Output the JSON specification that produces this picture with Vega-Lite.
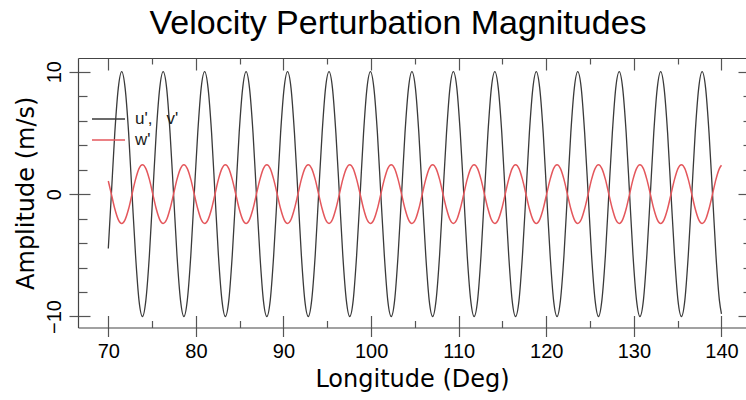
{
  "$schema": "https://vega.github.io/schema/vega-lite/v6.json",
  "width": 668,
  "height": 269.5,
  "autosize": {"type": "none"},
  "padding": {"left": 78, "top": 58, "right": 0, "bottom": 72.5},
  "background": "white",
  "title": {"text": "Velocity Perturbation Magnitudes", "font": "Liberation Sans", "fontSize": 34, "fontWeight": "normal", "color": "#000", "anchor": "middle", "frame": "group", "dx": -14, "baseline": "alphabetic", "offset": -11},
  "config": {
    "view": {"stroke": null},
    "axis": {"grid": false, "labelFont": "Liberation Sans", "labelFontSize": 20, "labelColor": "#000", "titleFont": "DejaVu Sans", "titleFontSize": 24, "titleFontWeight": "normal", "titleColor": "#000", "domainColor": "#444", "domainWidth": 1.2, "tickColor": "#555", "tickWidth": 1.2, "labelFlush": false, "labelOverlap": false}
  },
  "data": {"values": [
    {"lon":70,"u":-4.45,"w":1.07},{"lon":70.35,"u":0,"w":0},{"lon":70.74,"u":5,"w":-1.2},{"lon":71.14,"u":8.66,"w":-2.08},
    {"lon":71.53,"u":10,"w":-2.4},{"lon":71.92,"u":8.66,"w":-2.08},{"lon":72.32,"u":5,"w":-1.2},{"lon":72.71,"u":0,"w":0},{"lon":73.11,"u":-5,"w":1.2},{"lon":73.5,"u":-8.66,"w":2.08},{"lon":73.9,"u":-10,"w":2.4},{"lon":74.29,"u":-8.66,"w":2.08},{"lon":74.69,"u":-5,"w":1.2},{"lon":75.08,"u":0,"w":0},{"lon":75.47,"u":5,"w":-1.2},{"lon":75.87,"u":8.66,"w":-2.08},
    {"lon":76.26,"u":10,"w":-2.4},{"lon":76.66,"u":8.66,"w":-2.08},{"lon":77.05,"u":5,"w":-1.2},{"lon":77.45,"u":0,"w":0},{"lon":77.84,"u":-5,"w":1.2},{"lon":78.24,"u":-8.66,"w":2.08},{"lon":78.63,"u":-10,"w":2.4},{"lon":79.02,"u":-8.66,"w":2.08},{"lon":79.42,"u":-5,"w":1.2},{"lon":79.81,"u":0,"w":0},{"lon":80.21,"u":5,"w":-1.2},{"lon":80.6,"u":8.66,"w":-2.08},
    {"lon":81.0,"u":10,"w":-2.4},{"lon":81.39,"u":8.66,"w":-2.08},{"lon":81.79,"u":5,"w":-1.2},{"lon":82.18,"u":0,"w":0},{"lon":82.57,"u":-5,"w":1.2},{"lon":82.97,"u":-8.66,"w":2.08},{"lon":83.36,"u":-10,"w":2.4},{"lon":83.76,"u":-8.66,"w":2.08},{"lon":84.15,"u":-5,"w":1.2},{"lon":84.55,"u":0,"w":0},{"lon":84.94,"u":5,"w":-1.2},{"lon":85.34,"u":8.66,"w":-2.08},
    {"lon":85.73,"u":10,"w":-2.4},{"lon":86.12,"u":8.66,"w":-2.08},{"lon":86.52,"u":5,"w":-1.2},{"lon":86.91,"u":0,"w":0},{"lon":87.31,"u":-5,"w":1.2},{"lon":87.7,"u":-8.66,"w":2.08},{"lon":88.1,"u":-10,"w":2.4},{"lon":88.49,"u":-8.66,"w":2.08},{"lon":88.88,"u":-5,"w":1.2},{"lon":89.28,"u":0,"w":0},{"lon":89.67,"u":5,"w":-1.2},{"lon":90.07,"u":8.66,"w":-2.08},
    {"lon":90.46,"u":10,"w":-2.4},{"lon":90.86,"u":8.66,"w":-2.08},{"lon":91.25,"u":5,"w":-1.2},{"lon":91.65,"u":0,"w":0},{"lon":92.04,"u":-5,"w":1.2},{"lon":92.43,"u":-8.66,"w":2.08},{"lon":92.83,"u":-10,"w":2.4},{"lon":93.22,"u":-8.66,"w":2.08},{"lon":93.62,"u":-5,"w":1.2},{"lon":94.01,"u":0,"w":0},{"lon":94.41,"u":5,"w":-1.2},{"lon":94.8,"u":8.66,"w":-2.08},
    {"lon":95.2,"u":10,"w":-2.4},{"lon":95.59,"u":8.66,"w":-2.08},{"lon":95.98,"u":5,"w":-1.2},{"lon":96.38,"u":0,"w":0},{"lon":96.77,"u":-5,"w":1.2},{"lon":97.17,"u":-8.66,"w":2.08},{"lon":97.56,"u":-10,"w":2.4},{"lon":97.96,"u":-8.66,"w":2.08},{"lon":98.35,"u":-5,"w":1.2},{"lon":98.75,"u":0,"w":0},{"lon":99.14,"u":5,"w":-1.2},{"lon":99.53,"u":8.66,"w":-2.08},
    {"lon":99.93,"u":10,"w":-2.4},{"lon":100.32,"u":8.66,"w":-2.08},{"lon":100.72,"u":5,"w":-1.2},{"lon":101.11,"u":0,"w":0},{"lon":101.51,"u":-5,"w":1.2},{"lon":101.9,"u":-8.66,"w":2.08},{"lon":102.3,"u":-10,"w":2.4},{"lon":102.69,"u":-8.66,"w":2.08},{"lon":103.08,"u":-5,"w":1.2},{"lon":103.48,"u":0,"w":0},{"lon":103.87,"u":5,"w":-1.2},{"lon":104.27,"u":8.66,"w":-2.08},
    {"lon":104.66,"u":10,"w":-2.4},{"lon":105.06,"u":8.66,"w":-2.08},{"lon":105.45,"u":5,"w":-1.2},{"lon":105.84,"u":0,"w":0},{"lon":106.24,"u":-5,"w":1.2},{"lon":106.63,"u":-8.66,"w":2.08},{"lon":107.03,"u":-10,"w":2.4},{"lon":107.42,"u":-8.66,"w":2.08},{"lon":107.82,"u":-5,"w":1.2},{"lon":108.21,"u":0,"w":0},{"lon":108.61,"u":5,"w":-1.2},{"lon":109.0,"u":8.66,"w":-2.08},
    {"lon":109.39,"u":10,"w":-2.4},{"lon":109.79,"u":8.66,"w":-2.08},{"lon":110.18,"u":5,"w":-1.2},{"lon":110.58,"u":0,"w":0},{"lon":110.97,"u":-5,"w":1.2},{"lon":111.37,"u":-8.66,"w":2.08},{"lon":111.76,"u":-10,"w":2.4},{"lon":112.16,"u":-8.66,"w":2.08},{"lon":112.55,"u":-5,"w":1.2},{"lon":112.94,"u":0,"w":0},{"lon":113.34,"u":5,"w":-1.2},{"lon":113.73,"u":8.66,"w":-2.08},
    {"lon":114.13,"u":10,"w":-2.4},{"lon":114.52,"u":8.66,"w":-2.08},{"lon":114.92,"u":5,"w":-1.2},{"lon":115.31,"u":0,"w":0},{"lon":115.71,"u":-5,"w":1.2},{"lon":116.1,"u":-8.66,"w":2.08},{"lon":116.49,"u":-10,"w":2.4},{"lon":116.89,"u":-8.66,"w":2.08},{"lon":117.28,"u":-5,"w":1.2},{"lon":117.68,"u":0,"w":0},{"lon":118.07,"u":5,"w":-1.2},{"lon":118.47,"u":8.66,"w":-2.08},
    {"lon":118.86,"u":10,"w":-2.4},{"lon":119.25,"u":8.66,"w":-2.08},{"lon":119.65,"u":5,"w":-1.2},{"lon":120.04,"u":0,"w":0},{"lon":120.44,"u":-5,"w":1.2},{"lon":120.83,"u":-8.66,"w":2.08},{"lon":121.23,"u":-10,"w":2.4},{"lon":121.62,"u":-8.66,"w":2.08},{"lon":122.02,"u":-5,"w":1.2},{"lon":122.41,"u":0,"w":0},{"lon":122.8,"u":5,"w":-1.2},{"lon":123.2,"u":8.66,"w":-2.08},
    {"lon":123.59,"u":10,"w":-2.4},{"lon":123.99,"u":8.66,"w":-2.08},{"lon":124.38,"u":5,"w":-1.2},{"lon":124.78,"u":0,"w":0},{"lon":125.17,"u":-5,"w":1.2},{"lon":125.57,"u":-8.66,"w":2.08},{"lon":125.96,"u":-10,"w":2.4},{"lon":126.35,"u":-8.66,"w":2.08},{"lon":126.75,"u":-5,"w":1.2},{"lon":127.14,"u":0,"w":0},{"lon":127.54,"u":5,"w":-1.2},{"lon":127.93,"u":8.66,"w":-2.08},
    {"lon":128.33,"u":10,"w":-2.4},{"lon":128.72,"u":8.66,"w":-2.08},{"lon":129.12,"u":5,"w":-1.2},{"lon":129.51,"u":0,"w":0},{"lon":129.9,"u":-5,"w":1.2},{"lon":130.3,"u":-8.66,"w":2.08},{"lon":130.69,"u":-10,"w":2.4},{"lon":131.09,"u":-8.66,"w":2.08},{"lon":131.48,"u":-5,"w":1.2},{"lon":131.88,"u":0,"w":0},{"lon":132.27,"u":5,"w":-1.2},{"lon":132.67,"u":8.66,"w":-2.08},
    {"lon":133.06,"u":10,"w":-2.4},{"lon":133.45,"u":8.66,"w":-2.08},{"lon":133.85,"u":5,"w":-1.2},{"lon":134.24,"u":0,"w":0},{"lon":134.64,"u":-5,"w":1.2},{"lon":135.03,"u":-8.66,"w":2.08},{"lon":135.43,"u":-10,"w":2.4},{"lon":135.82,"u":-8.66,"w":2.08},{"lon":136.21,"u":-5,"w":1.2},{"lon":136.61,"u":0,"w":0},{"lon":137.0,"u":5,"w":-1.2},{"lon":137.4,"u":8.66,"w":-2.08},
    {"lon":137.79,"u":10,"w":-2.4},{"lon":138.19,"u":8.66,"w":-2.08},{"lon":138.58,"u":5,"w":-1.2},{"lon":138.98,"u":0,"w":0},{"lon":139.37,"u":-5,"w":1.2},{"lon":139.76,"u":-8.66,"w":2.08},{"lon":140,"u":-9.78,"w":2.35}
  ]},
  "layer": [
    {
      "mark": {"type": "line", "interpolate": "monotone", "strokeWidth": 1.3},
      "encoding": {
        "x": {"field": "lon", "type": "quantitative", "scale": {"domain": [66.54, 142.8], "nice": false, "zero": false},
              "axis": {"orient": "bottom", "values": [70, 80, 90, 100, 110, 120, 130, 140], "tickSize": 9, "labelPadding": 5, "title": "Longitude (Deg)", "titlePadding": 6}},
        "y": {"field": "u", "type": "quantitative", "scale": {"domain": [-10.9, 11.12], "nice": false, "zero": false},
              "axis": {"orient": "left", "values": [-10, 0, 10], "tickSize": 9, "labelAngle": -90, "labelAlign": "center", "labelBaseline": "bottom", "labelPadding": 5, "title": "Amplitude (m/s)", "titlePadding": 6}},
        "color": {"datum": "u',\u00a0\u00a0\u00a0v'", "type": "nominal",
                  "scale": {"domain": ["u',\u00a0\u00a0\u00a0v'", "w'"], "range": ["#3a3a3a", "#e4575c"]},
                  "legend": {"orient": "none", "legendX": 22, "legendY": 52.5, "title": null, "symbolType": "M-3,0H3", "symbolSize": 121, "symbolStrokeWidth": 1.5, "labelFont": "Liberation Sans", "labelFontSize": 17, "labelColor": "#1a1a1a", "labelOffset": 18, "rowPadding": 3, "padding": 0}}
      }
    },
    {
      "mark": {"type": "line", "interpolate": "monotone", "strokeWidth": 1.5},
      "encoding": {
        "x": {"field": "lon", "type": "quantitative", "scale": {"domain": [66.54, 142.8], "nice": false, "zero": false},
              "axis": {"orient": "bottom", "values": [70, 80, 90, 100, 110, 120, 130, 140], "tickSize": -12, "labels": false, "domain": false, "title": null}},
        "y": {"field": "w", "type": "quantitative", "scale": {"domain": [-10.9, 11.12], "nice": false, "zero": false},
              "axis": {"orient": "left", "values": [-10, 0, 10], "tickSize": -12, "labels": false, "domain": false, "title": null}},
        "color": {"datum": "w'", "type": "nominal"}
      }
    },
    {
      "mark": {"type": "line", "opacity": 0},
      "encoding": {
        "x": {"field": "lon", "type": "quantitative", "scale": {"domain": [66.54, 142.8], "nice": false, "zero": false},
              "axis": {"orient": "bottom", "values": [75, 85, 95, 105, 115, 125, 135], "tickSize": -7, "labels": false, "domain": false, "title": null}},
        "y": {"field": "u", "type": "quantitative", "scale": {"domain": [-10.9, 11.12], "nice": false, "zero": false},
              "axis": {"orient": "left", "values": [-8, -6, -4, -2, 2, 4, 6, 8], "tickSize": -9, "labels": false, "domain": false, "title": null}}
      }
    },
    {
      "mark": {"type": "line", "opacity": 0},
      "encoding": {
        "x": {"field": "lon", "type": "quantitative", "scale": {"domain": [66.54, 142.8], "nice": false, "zero": false},
              "axis": {"orient": "top", "values": [70, 80, 90, 100, 110, 120, 130, 140], "tickSize": -12, "labels": false, "domain": true, "title": null}},
        "y": {"field": "u", "type": "quantitative", "scale": {"domain": [-10.9, 11.12], "nice": false, "zero": false},
              "axis": {"orient": "right", "values": [-10, 0, 10], "tickSize": -8, "labels": false, "domain": false, "title": null}}
      }
    },
    {
      "mark": {"type": "line", "opacity": 0},
      "encoding": {
        "x": {"field": "lon", "type": "quantitative", "scale": {"domain": [66.54, 142.8], "nice": false, "zero": false},
              "axis": {"orient": "top", "values": [75, 85, 95, 105, 115, 125, 135], "tickSize": -6, "labels": false, "domain": false, "title": null}},
        "y": {"field": "u", "type": "quantitative", "scale": {"domain": [-10.9, 11.12], "nice": false, "zero": false},
              "axis": {"orient": "right", "values": [-8, -6, -4, -2, 2, 4, 6, 8], "tickSize": -3, "labels": false, "domain": false, "title": null}}
      }
    }
  ],
  "resolve": {"axis": {"x": "independent", "y": "independent"}}
}
